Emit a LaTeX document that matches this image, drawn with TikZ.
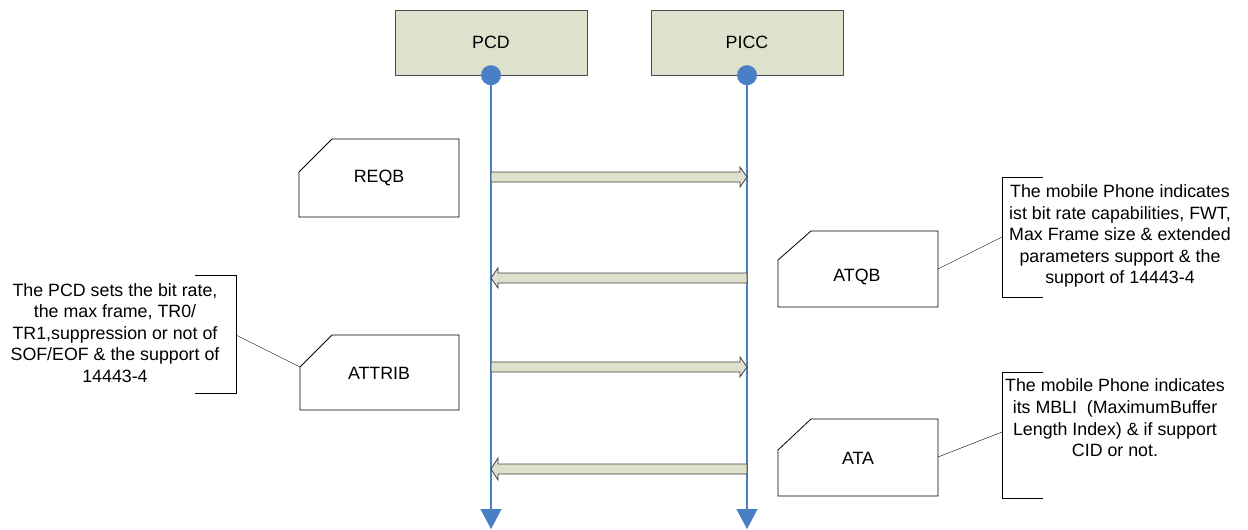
\documentclass[tikz,border=0pt]{standalone}
\usepackage{fontspec}
\setmainfont{Liberation Sans}
\usetikzlibrary{arrows.meta}
\definecolor{boxfill}{HTML}{DDE2CC}
\definecolor{lifeblue}{HTML}{4A7EC6}
\begin{document}
\begin{tikzpicture}[x=1pt,y=-1pt,
        actor/.style={draw=black!70,fill=boxfill,minimum width=192pt,minimum height=65pt,inner sep=0pt},
        dot/.style={circle,fill=lifeblue,minimum size=20pt,inner sep=0pt},
        life/.style={lifeblue,line width=1.3pt,-{Triangle[width=21pt,length=20pt]}},
        msg/.style={draw=black!75,fill=boxfill,line width=0.8pt,line join=miter},
        note/.style={draw=black,line width=0.8pt},
        bracket/.style={draw=black,line width=0.8pt},
        lbl/.style={inner sep=0pt},
        txt/.style={inner sep=0pt,align=center},
        every node/.style={font=\fontsize{17.8}{21.6}\selectfont}]
    \useasboundingbox (0,0) rectangle (1248,530);
    % the two parties and their lifelines
    \node[actor] (pcd) at (491,42.5) {PCD};
    \node[actor] (picc) at (747,42.5) {PICC};
    \coordinate (pcd-end) at (491,529);
    \coordinate (picc-end) at (747,529);
    \draw[life] (pcd.south) -- (pcd-end);
    \draw[life] (picc.south) -- (picc-end);
    \node[dot] (pcd-dot) at (pcd.south) {};
    \node[dot] (picc-dot) at (picc.south) {};
    % messages
    \draw[msg] (491,172) -- (740,172) -- (740,167) -- (747,177) -- (740,187)
        -- (740,182) -- (491,182) -- cycle;
    \draw[msg] (747,273) -- (498,273) -- (498,268) -- (491,278) -- (498,288)
        -- (498,283) -- (747,283) -- cycle;
    \draw[msg] (491,362) -- (740,362) -- (740,357) -- (747,367) -- (740,377)
        -- (740,372) -- (491,372) -- cycle;
    \draw[msg] (747,464) -- (498,464) -- (498,458) -- (491,469) -- (498,480)
        -- (498,474) -- (747,474) -- cycle;
    % message notes
    \draw[note] (299,172) -- (332,139) -- (459,139) -- (459,217) -- (299,217) -- cycle;
    \node[lbl] (reqb) at (379,178) {REQB};
    \draw[note] (778,260) -- (811,231) -- (938,231) -- (938,307) -- (778,307) -- cycle;
    \node[lbl] (atqb) at (857,277) {ATQB};
    \draw[note] (300,367) -- (332,335) -- (459,335) -- (459,410) -- (300,410) -- cycle;
    \node[lbl] (attrib) at (379,373) {ATTRIB};
    \draw[note] (778,450) -- (811,419) -- (938,419) -- (938,496) -- (778,496) -- cycle;
    \node[lbl] (ata) at (858,458) {ATA};
    \coordinate (attrib-c) at (300,367);
    \coordinate (atqb-e) at (938,269);
    \coordinate (ata-e) at (938,457);
    % comments
    \draw[bracket] (195,275) -- (236,275) -- (236,393) -- (195,393);
    \coordinate (c1) at (236,335);
    \node[txt] (t1) at (115,333) {The PCD sets the bit rate,\\the max frame, TR0/\\TR1,suppression or not of\\SOF/EOF \& the support of\\14443-4};
    \draw (c1) -- (attrib-c);
    \draw[bracket] (1043,177) -- (1002,177) -- (1002,297) -- (1043,297);
    \coordinate (c2) at (1002,237);
    \node[txt] (t2) at (1120,236) {The mobile Phone indicates\\ist bit rate capabilities, FWT,\\Max Frame size \& extended\\parameters support \& the\\support of 14443-4};
    \draw (atqb-e) -- (c2);
    \draw[bracket] (1043,372) -- (1002,372) -- (1002,498) -- (1043,498);
    \coordinate (c3) at (1002,432);
    \node[txt] (t3) at (1115,418) {The mobile Phone indicates\\its MBLI\ \ (MaximumBuffer\\Length Index) \& if support\\CID or not.};
    \draw (ata-e) -- (c3);
\end{tikzpicture}
\end{document}
